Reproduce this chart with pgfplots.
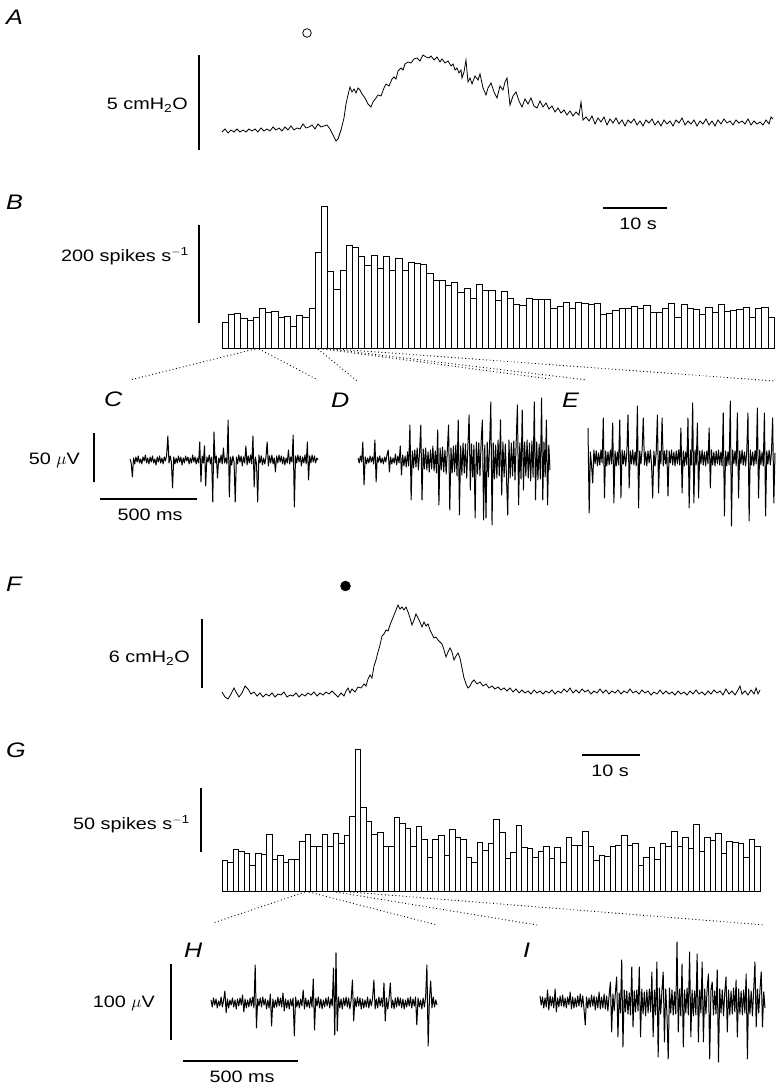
\documentclass[border=0pt]{standalone}
\usepackage{pgfplots}
\pgfplotsset{compat=1.18}
\usepackage{pgfplotstable}
\usepackage{fontspec}
\setmainfont{Liberation Sans}[FakeStretch=1.2]

% ---------- histogram B (bin heights, px above baseline; last value repeated for ybar interval)
\pgfplotstableread[row sep=\\, header=false]{
25.3\\33.7\\35\\29.3\\27.3\\31\\40\\35.3\\36.3\\30.7\\
32\\21.3\\32.3\\31\\39.3\\96\\142\\76.3\\59\\77.3\\
102.7\\101\\91.3\\83\\93\\79.3\\92\\77.3\\89.7\\78\\
85.3\\84.7\\83.3\\74.3\\68\\67.3\\63\\65.3\\55.3\\59.7\\
50\\64\\58\\58\\48\\57\\50\\43.7\\42.7\\49.3\\
48.3\\48.3\\48.3\\39.3\\41.7\\46\\40\\46\\45\\44\\
45\\34\\34.7\\37.7\\40\\40\\41.3\\39.3\\42.7\\36\\
35.3\\39.3\\45\\30.7\\43.7\\39.3\\38.3\\33.7\\40.7\\36\\
43.3\\36.7\\37.7\\38.3\\40.7\\31\\40\\40.3\\30.7\\30.7\\
}\histB

% ---------- histogram G
\pgfplotstableread[row sep=\\, header=false]{
30.3\\28.7\\42\\39.3\\37.7\\25.7\\37.7\\36.7\\56.3\\31.7\\
35.3\\28.3\\31.7\\31.7\\49.3\\56.3\\44.3\\44.3\\56.3\\45\\
58\\47.3\\55.7\\74.3\\142\\83.3\\69.3\\56.3\\59\\45\\
45\\74\\67.7\\62.7\\44.3\\64.3\\51.7\\33.7\\51.7\\55.3\\
35.3\\62\\53.7\\51.7\\33.7\\28.3\\49\\40.3\\47.3\\71.7\\
58.3\\32.7\\38.3\\65.7\\43.3\\42.3\\33.3\\40\\45\\32.3\\
43.3\\28.3\\53.3\\45.7\\45.7\\59.3\\44.3\\31\\36\\34.3\\
45\\45.7\\56\\45.7\\47.3\\26\\33.3\\43.3\\31.7\\48\\
45\\59.3\\45\\53.3\\42.3\\67\\40\\53.3\\51\\58\\
37.3\\49.3\\48.3\\47.3\\33.3\\51.7\\45\\45\\
}\histG

% ---------- extracellular recordings (offset from trace centre, px)
\pgfplotstableread[row sep=\\, header=false]{
1\\-3\\-17\\2\\-4\\3\\-2\\4\\-3\\1\\
-4\\3\\-1\\5\\-3\\2\\-4\\3\\-2\\4\\
-3\\1\\-5\\3\\-2\\4\\-3\\2\\-4\\3\\
-1\\5\\24\\-3\\4\\-2\\-28\\3\\-4\\2\\
-3\\4\\-2\\3\\-5\\2\\-3\\4\\-1\\3\\
-4\\2\\-3\\5\\-2\\3\\-4\\2\\-3\\18\\
-22\\4\\-3\\14\\-26\\3\\-2\\5\\-4\\3\\
-42\\28\\-3\\4\\-18\\2\\-3\\5\\-4\\12\\
-3\\2\\-4\\40\\-37\\3\\-5\\4\\-2\\-42\\
3\\-4\\5\\-2\\4\\-6\\3\\-3\\14\\-5\\
4\\-3\\5\\-4\\24\\-27\\3\\-4\\-42\\5\\
-3\\4\\-5\\2\\-4\\3\\18\\-6\\4\\-3\\
5\\-4\\2\\-12\\4\\-3\\5\\-2\\4\\-4\\
3\\-5\\2\\-3\\10\\-4\\3\\-2\\25\\-47\\
4\\-3\\5\\-2\\4\\-6\\3\\-3\\5\\-4\\
18\\-20\\4\\-3\\5\\-2\\4\\-3\\2\\0\\
}\recC

\pgfplotstableread[row sep=\\, header=false]{
2\\-3\\4\\-2\\18\\-25\\3\\-4\\2\\-3\\
4\\-2\\3\\-4\\20\\-22\\3\\-2\\4\\-3\\
2\\-4\\3\\-2\\5\\10\\-12\\3\\-4\\2\\
-3\\6\\-5\\4\\-3\\14\\-15\\5\\-6\\4\\
-7\\8\\-6\\35\\-40\\9\\-8\\10\\-7\\12\\
-10\\8\\35\\-40\\11\\-9\\12\\-10\\8\\-12\\
10\\-9\\14\\-11\\9\\-13\\30\\-45\\12\\-10\\
13\\-12\\10\\-14\\11\\35\\-50\\12\\-13\\14\\
-12\\15\\-16\\40\\-55\\14\\-15\\17\\-13\\16\\
-18\\14\\45\\-30\\16\\-17\\15\\-58\\18\\-14\\
17\\-16\\19\\40\\-60\\15\\-58\\18\\-17\\16\\
58\\-65\\17\\-19\\15\\-18\\20\\-16\\40\\-35\\
18\\-17\\16\\-19\\-55\\20\\-18\\17\\-16\\19\\
-20\\18\\55\\-45\\17\\-19\\50\\-30\\18\\-16\\
20\\-18\\17\\-21\\19\\-17\\58\\-40\\18\\-20\\
16\\-19\\62\\-40\\18\\-17\\40\\-45\\15\\-10\\
}\recD

\pgfplotstableread[row sep=\\, header=false]{
30\\-55\\6\\-7\\-25\\8\\-6\\7\\-8\\5\\
-7\\8\\-5\\40\\-40\\7\\-8\\6\\-7\\8\\
-6\\35\\-45\\7\\-8\\6\\-7\\38\\-40\\8\\
-6\\7\\-8\\5\\43\\-30\\7\\-6\\8\\-7\\
6\\-8\\52\\-50\\7\\-6\\8\\40\\-7\\6\\
-8\\7\\-5\\8\\-6\\-40\\7\\-8\\6\\43\\
-35\\7\\-6\\40\\-8\\7\\-6\\8\\-38\\7\\
-5\\8\\-7\\6\\-8\\7\\-6\\8\\-7\\30\\
-35\\7\\-8\\6\\-7\\40\\-50\\8\\-7\\55\\
-45\\8\\-7\\35\\-40\\7\\-6\\8\\-7\\6\\
-8\\7\\-6\\30\\-30\\8\\-7\\6\\-8\\7\\
-6\\8\\-7\\6\\-8\\45\\-58\\7\\-8\\6\\
-7\\57\\-68\\8\\-6\\7\\-8\\45\\-40\\7\\
-6\\8\\-7\\6\\-8\\7\\45\\-63\\8\\-7\\
6\\-8\\7\\-6\\50\\-40\\8\\-7\\6\\-8\\
45\\-58\\7\\-6\\8\\-7\\6\\40\\-45\\5\\
}\recE

\pgfplotstableread[row sep=\\, header=false]{
3\\-4\\5\\-2\\4\\-5\\2\\-3\\6\\-4\\
3\\12\\-10\\4\\-5\\3\\-2\\5\\-4\\3\\
-6\\4\\-3\\5\\-2\\8\\-9\\4\\-5\\3\\
-4\\5\\-3\\6\\-5\\38\\-25\\4\\-3\\5\\
-4\\6\\-2\\4\\-6\\3\\-5\\9\\-23\\4\\
-5\\3\\-4\\6\\-3\\5\\-4\\10\\-8\\4\\
-5\\3\\-6\\4\\-3\\5\\-33\\6\\-4\\3\\
-5\\4\\-3\\13\\-6\\5\\-4\\3\\-5\\6\\
-4\\24\\-27\\5\\-3\\6\\-5\\4\\-6\\3\\
-4\\5\\-3\\6\\-5\\4\\-3\\35\\-32\\50\\
-28\\6\\-5\\4\\-6\\5\\-3\\6\\-4\\5\\
-6\\3\\23\\-18\\5\\-4\\6\\-3\\5\\-6\\
4\\-5\\3\\-4\\6\\-5\\4\\-3\\5\\23\\
-6\\4\\-5\\6\\-3\\5\\-4\\20\\-18\\5\\
-6\\4\\20\\-5\\3\\-6\\5\\-4\\6\\-3\\
5\\-5\\4\\-6\\3\\-4\\5\\-3\\6\\-5\\
4\\-3\\6\\-22\\5\\-4\\3\\-6\\5\\-4\\
6\\38\\-43\\4\\22\\-5\\6\\-4\\3\\-2\\
}\recH

\pgfplotstableread[row sep=\\, header=false]{
6\\-3\\5\\-6\\4\\-5\\12\\-8\\6\\-4\\
5\\-6\\13\\-10\\4\\-5\\6\\-4\\7\\-5\\
4\\-6\\5\\-3\\10\\-7\\5\\-6\\4\\-5\\
6\\-4\\8\\-5\\6\\-7\\-23\\5\\-6\\4\\
-5\\7\\-4\\6\\-8\\5\\-6\\10\\-7\\5\\
-6\\8\\-7\\6\\-9\\7\\20\\-30\\8\\-9\\
10\\25\\-35\\9\\-11\\42\\-45\\12\\-10\\11\\
-12\\9\\-13\\35\\-25\\11\\-10\\12\\-9\\35\\
-35\\13\\-12\\10\\-14\\12\\-11\\13\\-10\\30\\
-35\\12\\-13\\40\\-55\\14\\-12\\11\\30\\-40\\
13\\-12\\-57\\14\\-11\\12\\-13\\10\\-12\\60\\
-30\\13\\-14\\38\\-45\\12\\-11\\14\\-13\\50\\
-35\\12\\-14\\11\\-13\\48\\-40\\12\\-11\\40\\
-40\\13\\-12\\14\\28\\-57\\12\\20\\-13\\11\\
-12\\32\\-60\\13\\-11\\12\\-14\\10\\25\\-30\\
12\\-13\\11\\-12\\14\\-10\\22\\-35\\13\\-12\\
11\\-13\\12\\-11\\28\\-57\\13\\-12\\11\\-14\\
12\\40\\-25\\13\\-11\\12\\30\\-25\\10\\-6\\
}\recI

\pgfplotsset{
  panel/.style={hide axis, scale only axis, clip=false, anchor=south west},
  rec/.style={panel, xmin=0, ymin=-70, ymax=70, height=140pt},
  hist/.style={panel, ymin=0, ymax=150, height=150pt},
  trace/.style={black, line width=1pt, line join=round},
}

\begin{document}
\begin{tikzpicture}[every node/.style={font=\fontsize{16.5}{19}\selectfont, inner sep=0pt}]
\path[use as bounding box] (0,0) rectangle (779pt,1090pt);

% ---------------- A : pressure
\begin{axis}[panel, xmin=222, xmax=773, ymin=50, ymax=145, y dir=reverse,
  width=551pt, height=95pt, at={(222pt,945pt)}]
\addplot[black, line width=0.8pt] coordinates {
(222,132)(225,129)(228,133)(231,130)(234,132)(237,129)(240,132)(243,130)(246,132)(249,129)
(252,131)(255,129)(258,132)(261,128)(264,131)(267,129)(270,131)(273,127)(276,130)(279,128)
(282,131)(285,127)(288,130)(291,126)(294,130)(297,128)(300,129)(303,124)(306,128)(309,127)
(312,125)(315,129)(318,124)(321,127)(324,126)(327,125)(330,129)(333,135)(336,141)(338,139)
(341,130)(344,118)(346,104)(348,95)(350,87)(352,92)(354,89)(356,93)(358,88)(360,90)
(362,94)(365,98)(368,104)(371,107)(373,102)(376,98)(378,95)(381,96)(384,88)(386,84)
(389,86)(392,79)(394,77)(396,79)(398,71)(401,68)(403,70)(405,64)(408,62)(411,63)
(414,59)(417,58)(420,61)(423,55)(426,57)(429,58)(431,56)(434,60)(437,57)(440,62)
(442,59)(445,63)(448,61)(451,66)(453,64)(455,70)(457,68)(459,73)(461,70)(462,78)
(464,72)(466,60)(468,82)(470,78)(472,84)(475,76)(478,80)(480,74)(483,88)(486,95)
(488,88)(491,83)(494,92)(497,98)(500,86)(503,90)(505,82)(507,78)(510,105)(513,96)
(516,92)(519,101)(522,107)(525,99)(528,104)(531,98)(534,106)(537,108)(540,101)(543,107)
(546,103)(549,109)(552,106)(555,112)(558,108)(561,113)(564,110)(567,115)(570,111)(573,116)
(576,112)(579,115)(581,102)(583,120)(586,117)(589,121)(592,116)(595,124)(598,118)(601,122)
(604,117)(607,125)(610,119)(613,123)(616,118)(619,124)(622,120)(625,126)(628,120)(631,123)
(634,119)(637,125)(640,121)(643,126)(646,120)(649,123)(652,119)(655,125)(658,121)(661,126)
(664,120)(667,124)(670,121)(673,126)(676,120)(679,123)(682,118)(685,125)(688,121)(691,124)
(694,120)(697,126)(700,121)(703,124)(706,119)(709,125)(712,121)(715,126)(718,120)(721,124)
(724,119)(727,123)(730,121)(733,125)(736,120)(739,123)(742,121)(745,124)(748,119)(751,125)
(754,121)(757,124)(760,122)(763,125)(766,120)(769,124)(771,117)(773,119)};
\addplot[only marks, mark=o, mark size=4.3pt, mark options={line width=0.8pt, black}] coordinates {(307,33)};
\end{axis}

% ---------------- B : histogram
\begin{axis}[hist, xmin=0, xmax=89, width=552pt, at={(222pt,742pt)}]
\addplot[ybar interval, draw=black, fill=white, line width=0.6pt] table[x expr=\coordindex, y index=0] {\histB};
\end{axis}

% ---------------- C D E : recordings
\begin{axis}[rec, xmax=159, width=188pt, at={(130pt,560pt)}]
\addplot[trace] table[x expr=\coordindex, y index=0] {\recC};
\end{axis}
\begin{axis}[rec, xmax=159, width=192pt, at={(358pt,560pt)}]
\addplot[trace] table[x expr=\coordindex, y index=0] {\recD};
\end{axis}
\begin{axis}[rec, xmax=159, width=187pt, at={(588pt,562pt)}]
\addplot[trace] table[x expr=\coordindex, y index=0] {\recE};
\end{axis}

% ---------------- F : pressure
\begin{axis}[panel, xmin=222, xmax=760, ymin=600, ymax=705, y dir=reverse,
  width=538pt, height=105pt, at={(222pt,385pt)}]
\addplot[black, line width=0.8pt] coordinates {
(222,692)(225,697)(228,699)(231,694)(234,688)(236,692)(239,697)(242,693)(245,686)(248,689)
(251,694)(254,692)(257,696)(260,693)(263,697)(266,694)(269,696)(272,693)(275,697)(278,694)
(281,695)(284,692)(287,697)(290,695)(293,696)(296,693)(299,697)(302,694)(305,696)(308,693)
(311,695)(314,692)(317,696)(320,693)(323,695)(326,692)(329,694)(332,691)(335,694)(338,697)
(341,693)(344,696)(346,691)(348,688)(350,693)(352,689)(355,692)(358,687)(361,688)(364,684)
(366,686)(368,679)(370,675)(372,678)(374,666)(376,660)(378,652)(380,645)(382,636)(384,634)
(386,630)(388,631)(390,625)(392,620)(394,615)(396,610)(398,605)(400,609)(402,607)(404,610)
(406,607)(408,612)(410,618)(412,625)(414,620)(416,614)(418,618)(420,622)(422,627)(424,622)
(426,626)(428,624)(430,630)(432,634)(434,638)(436,637)(438,640)(440,642)(442,644)(444,650)
(446,657)(448,652)(450,648)(452,652)(454,660)(456,656)(458,653)(460,658)(462,668)(464,678)
(466,684)(468,688)(470,686)(472,682)(474,680)(477,684)(480,682)(483,686)(486,684)(489,688)
(492,686)(495,689)(498,687)(501,690)(504,688)(507,691)(510,688)(513,692)(516,689)(519,693)
(522,690)(525,693)(528,691)(531,694)(534,690)(537,693)(540,691)(543,694)(546,691)(549,693)
(552,690)(555,694)(558,691)(561,693)(564,689)(567,692)(570,688)(573,693)(576,690)(579,693)
(582,689)(585,692)(588,690)(591,694)(594,691)(597,693)(600,689)(603,693)(606,690)(609,694)
(612,691)(615,693)(618,690)(621,694)(624,691)(627,693)(630,689)(633,693)(636,691)(639,694)
(642,690)(645,693)(648,691)(651,695)(654,692)(657,694)(660,690)(663,694)(666,691)(669,694)
(672,692)(675,695)(678,691)(681,694)(684,692)(687,695)(690,691)(693,694)(696,690)(699,694)
(702,692)(705,695)(708,691)(711,694)(714,690)(717,693)(720,691)(723,695)(726,689)(729,694)
(732,691)(735,695)(738,690)(740,686)(742,694)(745,691)(748,695)(751,690)(754,694)(756,688)
(758,694)(760,690)};
\addplot[only marks, mark=*, mark size=5pt, mark options={black}] coordinates {(345.5,586)};
\end{axis}

% ---------------- G : histogram
\begin{axis}[hist, xmin=0, xmax=97, width=538pt, at={(222pt,199pt)}]
\addplot[ybar interval, draw=black, fill=white, line width=0.6pt] table[x expr=\coordindex, y index=0] {\histG};
\end{axis}

% ---------------- H I : recordings
\begin{axis}[rec, xmax=179, width=226pt, at={(211pt,17pt)}]
\addplot[trace] table[x expr=\coordindex, y index=0] {\recH};
\end{axis}
\begin{axis}[rec, xmax=179, width=225pt, at={(540pt,18pt)}]
\addplot[trace] table[x expr=\coordindex, y index=0] {\recI};
\end{axis}

% ---------------- annotations (pixel frame: x right, y down)
\begin{scope}[x=1pt, y=-1pt, yshift=1090pt]
 % panel letters
 \begin{scope}[every node/.style={font=\fontsize{21}{23}\selectfont\itshape, inner sep=0pt, anchor=base west}]
  \node at (6,25) {A};
  \node at (6,210) {B};
  \node at (104,407) {C};
  \node at (331,408) {D};
  \node at (562,408) {E};
  \node at (6,592) {F};
  \node at (6,758) {G};
  \node at (184,958) {H};
  \node at (523,958) {I};
 \end{scope}
 % scale bars
 \draw[line width=1.3pt] (199,55) -- (199,150);
 \draw[line width=1.3pt] (199,225) -- (199,323);
 \draw[line width=1.3pt] (603,208) -- (667,208);
 \draw[line width=1.3pt] (94,433) -- (94,482);
 \draw[line width=1.1pt] (100,499) -- (197,499);
 \draw[line width=1.3pt] (202,619) -- (202,688);
 \draw[line width=1.3pt] (201,788) -- (201,852);
 \draw[line width=1.3pt] (582,755) -- (640,755);
 \draw[line width=1.3pt] (171,964) -- (171,1040);
 \draw[line width=1.1pt] (183,1061) -- (298,1061);
 % scale labels
 \node[anchor=base east] at (188,110) {5 cmH\textsubscript{2}O};
 \node[anchor=base east] at (189,262) {200 spikes s\textsuperscript{$-$1}};
 \node[anchor=base] at (638,230) {10 s};
 \node[anchor=base east] at (80,465) {50 $\mu$V};
 \node[anchor=base] at (150,521) {500 ms};
 \node[anchor=base east] at (190,663) {6 cmH\textsubscript{2}O};
 \node[anchor=base east] at (190,830) {50 spikes s\textsuperscript{$-$1}};
 \node[anchor=base] at (610,777) {10 s};
 \node[anchor=base east] at (155,1008) {100 $\mu$V};
 \node[anchor=base] at (242,1082) {500 ms};
 % dotted expansion lines
 \begin{scope}[line width=0.9pt, dash pattern=on 0.9pt off 2.6pt]
  \draw (255,349) -- (130,380);
  \draw (259,349) -- (318,380);
  \draw (318,349) -- (357,381);
  \draw (323,349) -- (550,379);
  \draw (330,349) -- (587,380);
  \draw (336,349) -- (775,381);
  \draw (305,892) -- (213,923);
  \draw (309,892) -- (437,925);
  \draw (336,892) -- (537,925);
  \draw (350,892) -- (765,925);
 \end{scope}
\end{scope}
\end{tikzpicture}
\end{document}
